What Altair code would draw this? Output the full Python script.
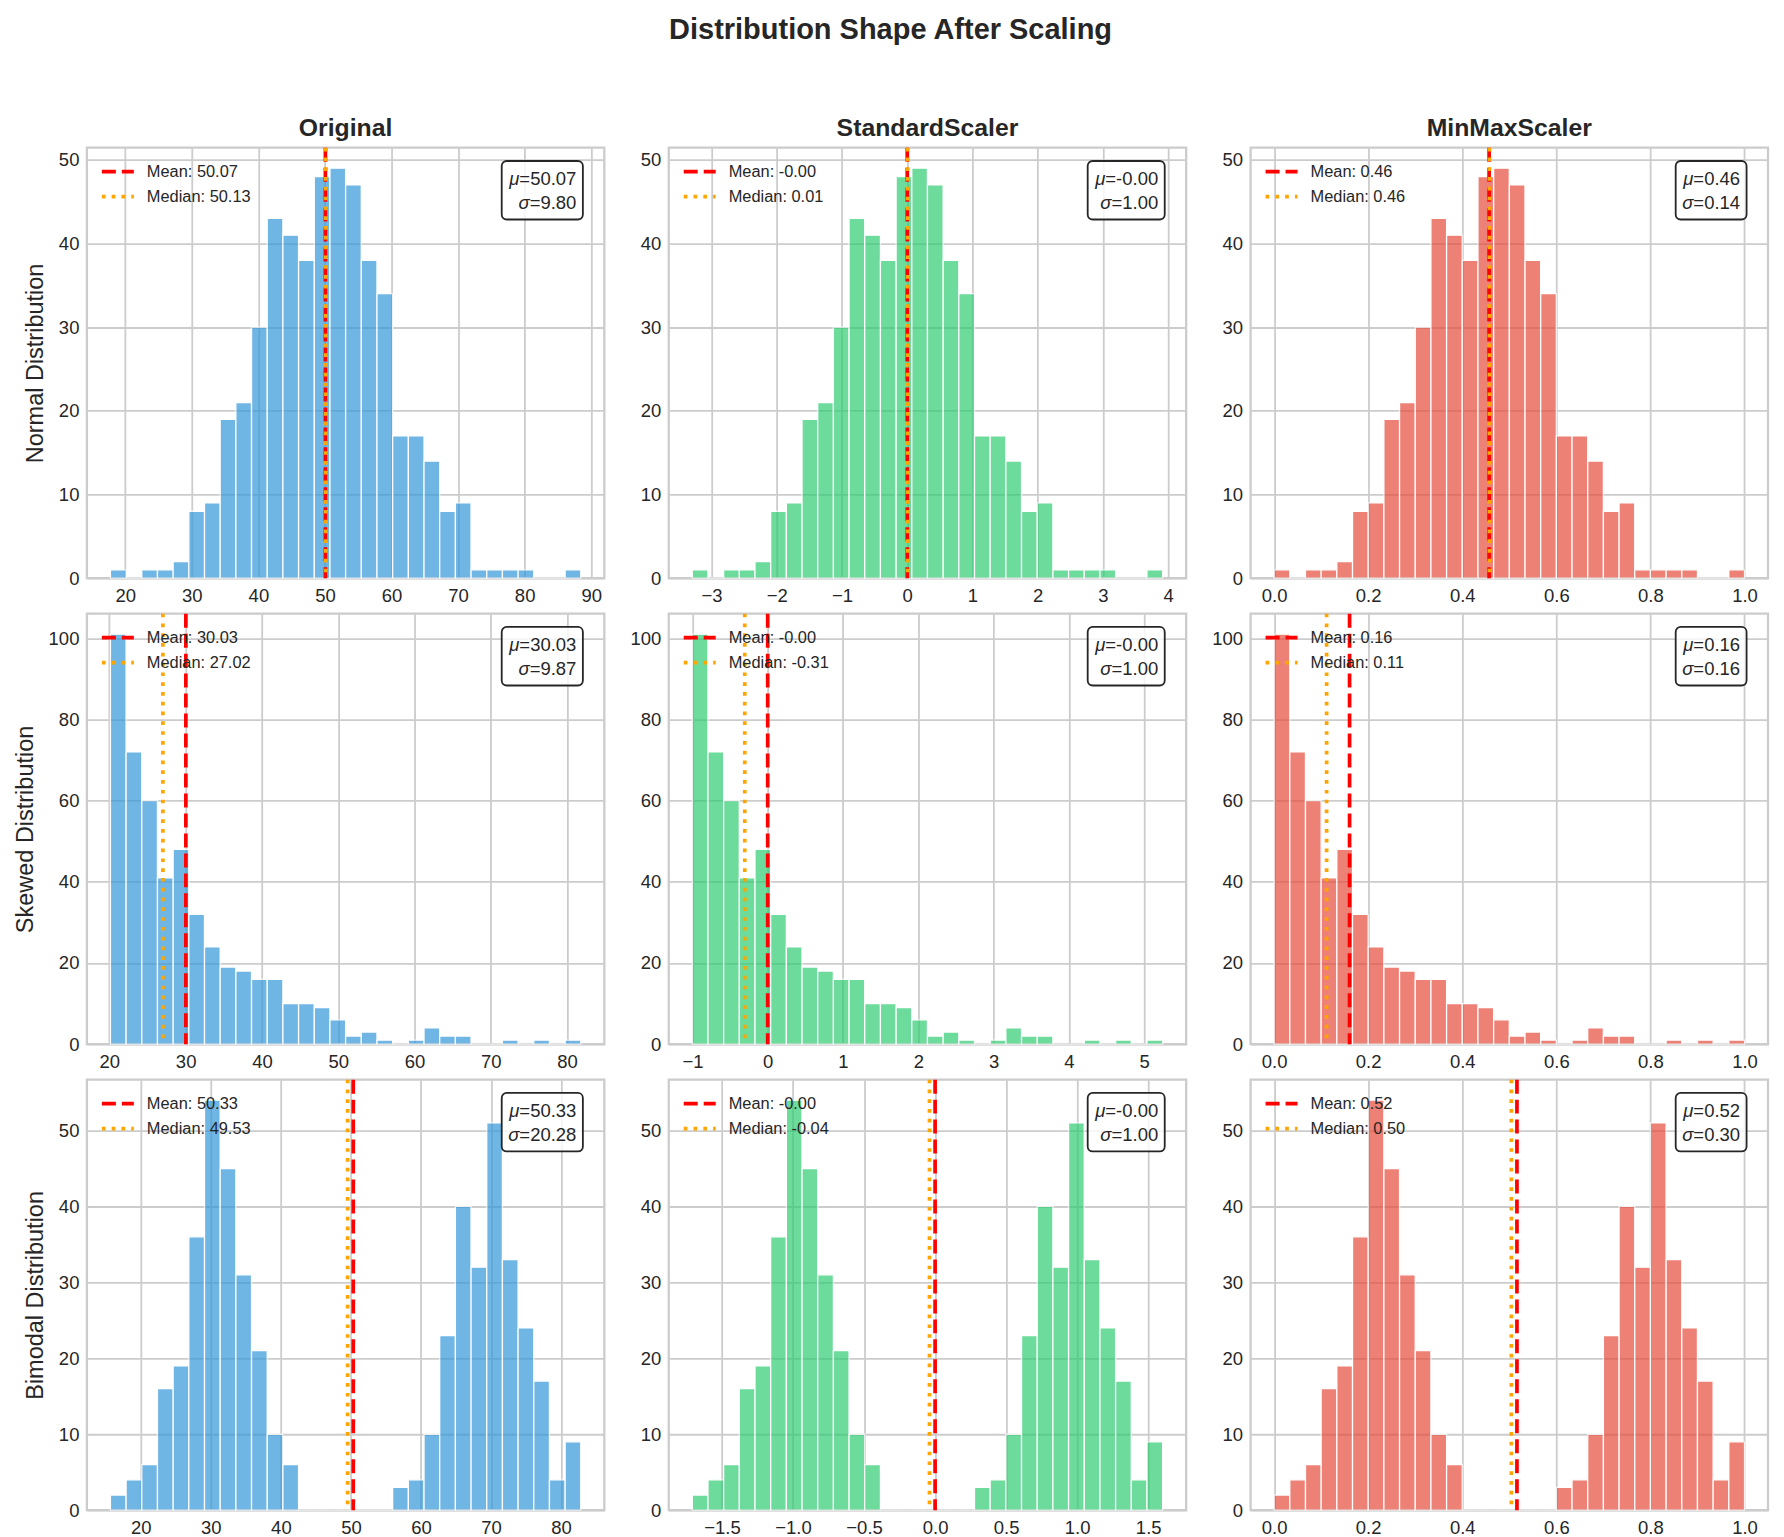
import altair as alt
import pandas as pd

# ---------------- data ----------------
ROW_NAMES = ["Normal Distribution", "Skewed Distribution", "Bimodal Distribution"]
COL_NAMES = ["Original", "StandardScaler", "MinMaxScaler"]
COL_COLORS = ["#3498db", "#2ecc71", "#e74c3c"]

# 30-bin histogram counts of the original data (identical shape after scaling)
COUNTS_NORMAL = [1, 0, 1, 1, 2, 8, 9, 19, 21, 30, 43, 41, 38, 48, 49,
                 47, 38, 34, 17, 17, 14, 8, 9, 1, 1, 1, 1, 0, 0, 1]
COUNTS_SKEWED = [101, 72, 60, 41, 48, 32, 24, 19, 18, 16, 16, 10, 10, 9, 6,
                 2, 3, 1, 0, 1, 4, 2, 2, 0, 0, 1, 0, 1, 0, 1]
COUNTS_BIMODAL = [2, 4, 6, 16, 19, 36, 54, 45, 31, 21, 10, 6, 0, 0, 0,
                  0, 0, 0, 3, 4, 10, 23, 40, 32, 51, 33, 24, 17, 4, 9]
COUNTS = [COUNTS_NORMAL, COUNTS_SKEWED, COUNTS_BIMODAL]

# original-data min / max (histogram range), mean, median, std
DATA_MIN = [17.77, 20.14, 15.67]
DATA_MAX = [88.44, 81.80, 82.81]
DATA_MEAN = [50.07, 30.03, 50.33]
DATA_MEDIAN = [50.13, 27.02, 49.53]
DATA_STD = [9.80, 9.87, 20.28]

# displayed statistics text per panel [row][col]
MEAN_TEXT = [["50.07", "-0.00", "0.46"],
             ["30.03", "-0.00", "0.16"],
             ["50.33", "-0.00", "0.52"]]
MEDIAN_TEXT = [["50.13", "0.01", "0.46"],
               ["27.02", "-0.31", "0.11"],
               ["49.53", "-0.04", "0.50"]]
STD_TEXT = [["9.80", "1.00", "0.14"],
            ["9.87", "1.00", "0.16"],
            ["20.28", "1.00", "0.30"]]

MINMAX_TICKS = [0.0, 0.2, 0.4, 0.6, 0.8, 1.0]
X_TICKS = [
    [[20, 30, 40, 50, 60, 70, 80, 90], [-3, -2, -1, 0, 1, 2, 3, 4], MINMAX_TICKS],
    [[20, 30, 40, 50, 60, 70, 80], [-1, 0, 1, 2, 3, 4, 5], MINMAX_TICKS],
    [[20, 30, 40, 50, 60, 70, 80], [-1.5, -1.0, -0.5, 0.0, 0.5, 1.0, 1.5], MINMAX_TICKS],
]
X_FORMATS = [[".0f", ".0f", ".1f"], [".0f", ".0f", ".1f"], [".0f", ".1f", ".1f"]]
Y_TICKS = [[0, 10, 20, 30, 40, 50], [0, 20, 40, 60, 80, 100], [0, 10, 20, 30, 40, 50]]

# ---------------- style ----------------
FONT = "Liberation Sans"
TEXT_COLOR = "#262626"
GRID = "#cccccc"
W, H = 518, 431
STAT_FS = 18.5

# Arial/Liberation advance widths (em) for width estimates of the stats box
CHAR_W = {".": 0.278, "=": 0.584, "-": 0.333}


def text_width(s, fs):
    return sum(CHAR_W.get(ch, 0.556) for ch in s) * fs


def scaler(r, c):
    if c == 0:
        return lambda v: v
    if c == 1:
        return lambda v: (v - DATA_MEAN[r]) / DATA_STD[r]
    return lambda v: (v - DATA_MIN[r]) / (DATA_MAX[r] - DATA_MIN[r])


def panel(r, c):
    counts = COUNTS[r]
    n = len(counts)
    f = scaler(r, c)
    lo, hi = DATA_MIN[r], DATA_MAX[r]
    edges = [f(lo + (hi - lo) * i / n) for i in range(n + 1)]
    bars = pd.DataFrame({"x0": edges[:-1], "x1": edges[1:], "count": counts,
                         "base": [0] * n})
    a, b = edges[0], edges[-1]
    m = 0.05 * (b - a)
    xscale = alt.Scale(domain=[a - m, b + m], nice=False, zero=False)
    yscale = alt.Scale(domain=[0, max(counts) * 1.05], nice=False)
    xaxis = alt.Axis(values=X_TICKS[r][c], format=X_FORMATS[r][c], title=None)
    if c == 0:
        yaxis = alt.Axis(values=Y_TICKS[r], format="d", title=ROW_NAMES[r])
    else:
        yaxis = alt.Axis(values=Y_TICKS[r], format="d", title=None)

    hist = alt.Chart(bars).mark_rect(
        color=COL_COLORS[c], opacity=0.7, stroke="white", strokeWidth=1.3
    ).encode(
        x=alt.X("x0:Q", scale=xscale, axis=xaxis),
        x2="x1:Q",
        y=alt.Y("count:Q", scale=yscale, axis=yaxis),
        y2="base:Q",
    )

    labels = ["Mean: " + MEAN_TEXT[r][c], "Median: " + MEDIAN_TEXT[r][c]]
    lines = pd.DataFrame({
        "label": labels,
        "pos": [f(DATA_MEAN[r]), f(DATA_MEDIAN[r])],
    })
    leg = dict(
        title=None, orient="none", legendX=19, legendY=12,
        symbolType="M-1.6,0L1.6,0", symbolSize=400, symbolStrokeWidth=3.7,
        labelFontSize=16.4, labelFont=FONT, labelColor=TEXT_COLOR,
        labelOffset=17, rowPadding=4, padding=0,
    )
    rules = alt.Chart(lines).mark_rule(strokeWidth=3.7).encode(
        x=alt.X("pos:Q", scale=xscale, axis=xaxis),
        color=alt.Color("label:N", sort=labels,
                        scale=alt.Scale(domain=labels, range=["#ff0000", "#ffa500"]),
                        legend=alt.Legend(**leg)),
        strokeDash=alt.StrokeDash("label:N", sort=labels,
                                  scale=alt.Scale(domain=labels, range=[[14, 6], [3.7, 6.1]]),
                                  legend=alt.Legend(**leg)),
    )

    mu_rest = "=" + MEAN_TEXT[r][c]
    sd_rest = "=" + STD_TEXT[r][c]
    tx = W * 0.946
    w_mu = text_width(mu_rest, STAT_FS) + 0.576 * STAT_FS
    w_sd = text_width(sd_rest, STAT_FS) + 0.57 * STAT_FS
    box_left = tx - max(w_mu, w_sd) - 7
    one = pd.DataFrame({"k": [0]})
    box = alt.Chart(one).mark_rect(
        fill="white", fillOpacity=0.8, stroke=TEXT_COLOR, strokeWidth=1.8, cornerRadius=5
    ).encode(
        x=alt.value(box_left), x2=alt.value(tx + 6.5),
        y=alt.value(13.3), y2=alt.value(71.9),
    )
    stats = []
    for yy, rest, sym in [(31.6, mu_rest, "μ"), (55.0, sd_rest, "σ")]:
        stats.append(alt.Chart(one).mark_text(
            align="right", baseline="middle", fontSize=STAT_FS, font=FONT, color=TEXT_COLOR
        ).encode(x=alt.value(tx), y=alt.value(yy), text=alt.value(rest)))
        stats.append(alt.Chart(one).mark_text(
            align="right", baseline="middle", fontSize=STAT_FS, font=FONT,
            fontStyle="italic", color=TEXT_COLOR
        ).encode(x=alt.value(tx - text_width(rest, STAT_FS)), y=alt.value(yy),
                 text=alt.value(sym)))

    layer = alt.layer(hist, rules, box, *stats).properties(width=W, height=H)
    if r == 0:
        layer = layer.properties(title=alt.TitleParams(
            COL_NAMES[c], fontSize=24.8, fontWeight="bold", font=FONT,
            color=TEXT_COLOR, offset=5))
    return layer


panels = [panel(r, c) for r in range(3) for c in range(3)]

chart = alt.concat(
    *panels, columns=3, spacing={"row": 35.5, "column": 64.5}, bounds="flush"
).resolve_scale(
    x="independent", y="independent", color="independent", strokeDash="independent"
).resolve_legend(
    color="independent", strokeDash="independent"
).properties(
    title=alt.TitleParams("Distribution Shape After Scaling", fontSize=29,
                          fontWeight="bold", font=FONT, color=TEXT_COLOR,
                          anchor="middle", offset=70),
    padding={"left": 11, "top": 15, "right": 14, "bottom": 0},
    background="white",
).configure_view(
    stroke=GRID, strokeWidth=2.3
).configure_axis(
    domain=False, ticks=False, grid=True, gridColor=GRID, gridWidth=1.8,
    labelFont=FONT, labelFontSize=18.5, labelColor=TEXT_COLOR, labelPadding=8,
    titleFont=FONT, titleFontSize=23.5, titleFontWeight="normal", titleColor=TEXT_COLOR,
    titlePadding=11,
)

chart.save("out.html", embed_options={"renderer": "svg", "actions": False})
